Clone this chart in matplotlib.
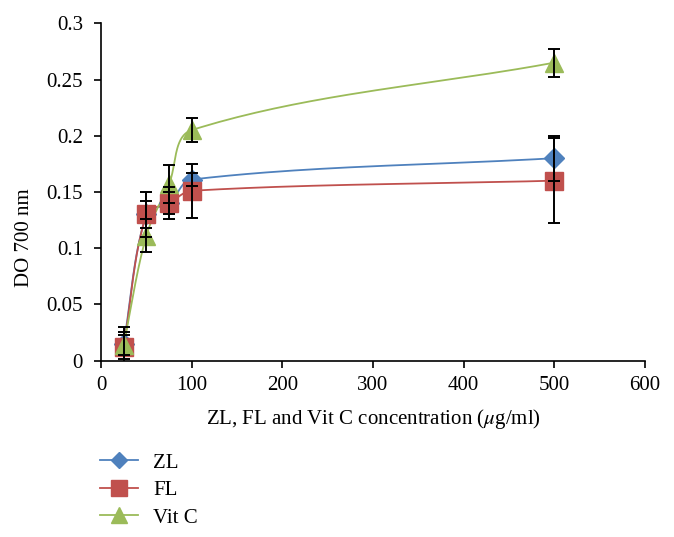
import numpy as np
import matplotlib
matplotlib.use("Agg")
import matplotlib.pyplot as plt
from matplotlib.lines import Line2D

# concentrations (ug/ml)
conc = [25, 50, 75, 100, 500]

zl = [0.015, 0.130, 0.140, 0.161, 0.180]
zl_err = [0.010, 0.012, 0.010, 0.006, 0.020]
fl = [0.012, 0.130, 0.140, 0.151, 0.160]
fl_err = [0.011, 0.020, 0.0145, 0.024, 0.038]
vitc = [0.014, 0.111, 0.157, 0.205, 0.265]
vitc_err = [0.016, 0.0145, 0.017, 0.011, 0.0125]

names = ["ZL", "FL", "Vit C"]
colors = ["#4F81BD", "#C0504D", "#9BBB59"]
markers = ["D", "s", "^"]
msizes = [10, 13, 13]

plt.rcParams['font.family'] = ['Liberation Serif', 'DejaVu Serif']
plt.rcParams['mathtext.fontset'] = 'stix'

W, H = 674, 537
fig = plt.figure(figsize=(W / 100, H / 100), dpi=100)
ax = fig.add_axes([101 / W, 1 - 360.5 / H, (645 - 101) / W, (360.5 - 23.3) / H])
ax.set_xlim(0, 600)
ax.set_ylim(0, 0.3)


def smooth(xs, ys, n=40):
    # excel-like smoothed line, built in pixel space of the axes
    sx = 544 / 600.0
    sy = 337 / 0.3
    P = np.column_stack([np.array(xs) * sx, np.array(ys) * sy])
    out = [P[0]]
    for i in range(len(P) - 1):
        p0, p1 = P[i], P[i + 1]
        seg = np.linalg.norm(p1 - p0) / 3.0
        d0 = (P[i + 1] - P[i - 1]) if i > 0 else (p1 - p0)
        d1 = (P[i + 2] - P[i]) if i + 2 < len(P) else (p1 - p0)
        c0 = p0 + seg * d0 / np.linalg.norm(d0)
        c1 = p1 - seg * d1 / np.linalg.norm(d1)
        t = np.linspace(0, 1, n)[1:, None]
        b = ((1 - t) ** 3) * p0 + 3 * ((1 - t) ** 2) * t * c0 + 3 * (1 - t) * t ** 2 * c1 + t ** 3 * p1
        out.extend(b)
    out = np.array(out)
    return out[:, 0] / sx, out[:, 1] / sy


series = [(zl, zl_err), (fl, fl_err), (vitc, vitc_err)]
for (vals, errs), c, m, ms in zip(series, colors, markers, msizes):
    lx, ly = smooth(conc, vals)
    ax.plot(lx, ly, color=c, lw=1.3, zorder=2)
    ax.plot(conc, vals, ls='none', marker=m, ms=ms, color=c, mec=c, zorder=3)
for vals, errs in series:
    ax.errorbar(conc, vals, yerr=errs, fmt='none', ecolor='black', elinewidth=1.4,
                capsize=4.5, capthick=1.4, zorder=4)

for s in ['top', 'right']:
    ax.spines[s].set_visible(False)
for s in ['left', 'bottom']:
    ax.spines[s].set_linewidth(1.2)
ax.set_xticks(np.arange(0, 601, 100))
ax.set_yticks(np.arange(0, 0.301, 0.05))
ax.set_yticklabels(['0', '0.05', '0.1', '0.15', '0.2', '0.25', '0.3'])
ax.tick_params(direction='out', length=5, width=1.2, labelsize=15)
ax.tick_params(axis='x', pad=6)
ax.tick_params(axis='y', pad=8)

fig.text(373 / W, 1 - 419 / H, r"ZL, FL and Vit C concentration ($\mu$g/ml)",
         ha='center', va='center', fontsize=15)
fig.text(25 / W, 1 - 238 / H, "DO 700 nm", rotation=90, ha='center', va='center', fontsize=15)

handles = [Line2D([], [], color=c, marker=m, ms=ms * 0.85, lw=1.3) for c, m, ms in zip(colors, markers, msizes)]
fig.legend(handles, names, loc='upper left', bbox_to_anchor=(100 / W, 1 - 453 / H),
           frameon=False, fontsize=15, handlelength=1.8, handletextpad=0.75,
           labelspacing=0.38, borderpad=0, borderaxespad=0)

fig.savefig("out.png", dpi=100)
